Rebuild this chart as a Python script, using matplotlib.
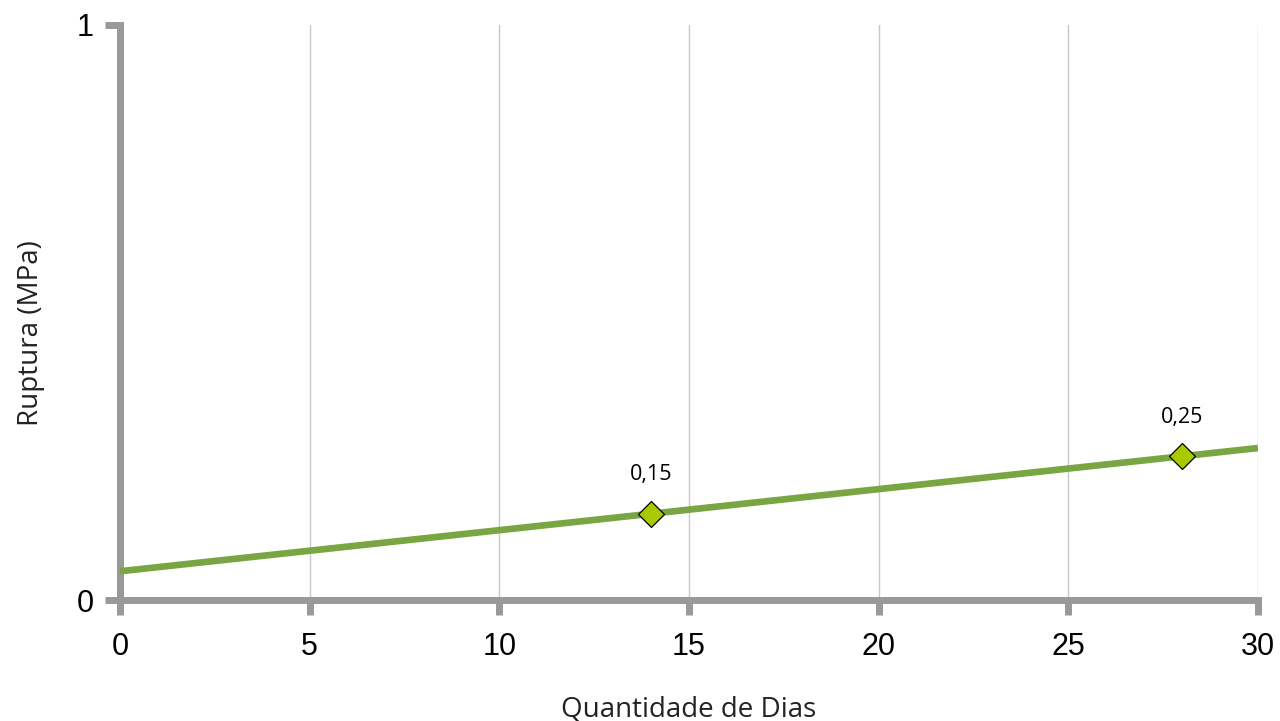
import numpy as np
import matplotlib.pyplot as plt

# Data
dias = [14, 28]
ruptura = [0.15, 0.25]
rotulos = ["0,15", "0,25"]
xticks = [0, 5, 10, 15, 20, 25, 30]
yticks = [0, 1]

fig = plt.figure(figsize=(12.8, 7.21), dpi=100)
ax = fig.add_axes([120/1280, 1 - 600/721, (1258 - 120)/1280, (600 - 25)/721])

# linear trend line over the full x range
coef = np.polyfit(dias, ruptura, 1)
xs = np.array([0, 30])
ax.plot(xs, np.polyval(coef, xs), color="#79a543", lw=4.8, zorder=3, solid_capstyle="butt")

ax.plot(dias, ruptura, linestyle="none", marker="D", ms=13.5, mfc="#a8c800",
        mec="black", mew=0.9, zorder=4)

for x, y, t in zip(dias, ruptura, rotulos):
    ax.text(x, y + 0.068, t, ha="center", va="center", fontsize=15.5,
            family="Open Sans")

ax.set_xlim(0, 30)
ax.set_ylim(0, 1)
ax.set_xticks(xticks)
ax.set_yticks(yticks)
ax.grid(axis="x", color="#c8c8c8", lw=1)
ax.set_axisbelow(True)

for s in ["top", "right"]:
    ax.spines[s].set_visible(False)
for s in ["left", "bottom"]:
    ax.spines[s].set_color("#999999")
    ax.spines[s].set_linewidth(5)
ax.tick_params(length=11, width=5, color="#999999", labelsize=22)
ax.tick_params(axis="x", pad=12)
ax.tick_params(axis="y", pad=8)
for lab in ax.get_xticklabels() + ax.get_yticklabels():
    lab.set_family("Liberation Sans")

ax.set_xlabel("Quantidade de Dias", fontsize=20, family="Open Sans", labelpad=24, color="#222222")
ax.set_ylabel("Ruptura (MPa)", fontsize=20, family="Open Sans", color="#222222")
ax.yaxis.set_label_coords(-0.066, 0.464)

plt.savefig("out.png", dpi=100)
